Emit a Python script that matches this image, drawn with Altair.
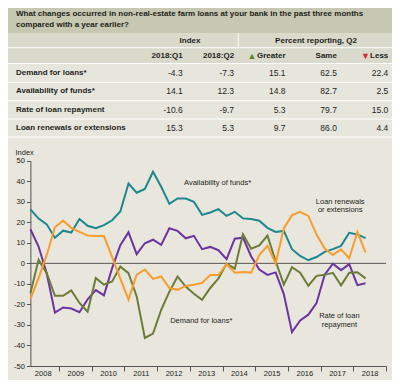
import altair as alt
import pandas as pd

# ---------------- data ----------------
quarter_index = list(range(42))  # 2008:Q1 ... 2018:Q2
availability = [26.3, 21.8, 19.0, 12.5, 15.9, 15.0, 21.6, 18.3, 17.1, 18.6, 21.0, 25.3,
                38.9, 34.4, 36.2, 44.6, 37.3, 29.0, 31.6, 31.6, 30.0, 23.6, 24.8, 26.4,
                23.1, 25.1, 21.9, 21.6, 20.8, 17.3, 15.3, 15.8, 6.9, 3.6, 1.5, 3.1,
                5.6, 6.9, 8.5, 14.9, 14.1, 12.3]
repayment = [16.6, 8.2, -5.0, -24.0, -21.5, -22.0, -23.8, -17.5, -13.0, -15.6, -2.3, 8.8,
             15.1, 4.5, 9.8, 11.5, 9.0, 17.1, 15.8, 12.2, 13.4, 6.9, 8.0, 6.4,
             2.0, 12.0, 12.5, 3.5, -3.0, -5.6, -4.4, -15.0, -33.5, -27.8, -25.0, -19.4,
             -5.5, -0.2, -3.3, -0.4, -10.6, -9.7]
demand = [-14.5, 1.7, -4.8, -15.8, -15.8, -13.2, -19.3, -23.6, -7.2, -10.4, -8.8, -1.6,
          -4.8, -16.1, -36.3, -34.2, -22.6, -13.8, -6.4, -11.3, -14.8, -17.8, -12.0, -7.4,
          -0.1, -2.6, 14.2, 7.1, 8.7, 13.5, 1.0, -10.4, -1.9, -4.6, -10.9, -6.1,
          -5.6, -4.6, -10.7, -4.6, -4.3, -7.3]
renewals = [-17.4, -7.2, 4.1, 17.6, 20.8, 17.3, 15.3, 13.6, 13.3, 13.3, 3.0, -7.4,
            -17.7, -5.5, -3.0, -7.5, -6.4, -12.0, -12.9, -11.0, -10.4, -9.5, -5.7, -5.7,
            -0.4, -4.6, -4.2, -4.5, 4.0, 8.5, 0.0, 17.0, 23.5, 25.1, 23.1, 14.0,
            7.2, 4.1, 6.8, 2.5, 15.3, 5.3]

series_names = ["Availability of funds*", "Rate of loan repayment",
                "Demand for loans*", "Loan renewals or extensions"]
series_values = [availability, repayment, demand, renewals]

year_boundaries = [4 * k - 0.5 for k in range(1, 12)]   # 2009 ... 2019 starts
y_ticks = list(range(-50, 51, 10))

question = ["What changes occurred in non-real-estate farm loans at your bank in the past three months",
            "compared with a year earlier?"]
group_headers = ["Index", "Percent reporting, Q2"]
column_keys = ["q1", "q2", "greater", "same", "less"]
column_headers = ["2018:Q1", "2018:Q2", "Greater", "Same", "Less"]
row_labels = ["Demand for loans*", "Availability of funds*",
              "Rate of loan repayment", "Loan renewals or extensions"]
index_q1 = [-4.3, 14.1, -10.6, 15.3]
index_q2 = [-7.3, 12.3, -9.7, 5.3]
pct_greater = [15.1, 14.8, 5.3, 9.7]
pct_same = [62.5, 82.7, 79.7, 86.0]
pct_less = [22.4, 2.5, 15.0, 4.4]

ann_left_text = ["Availability of funds*", "Demand for loans*"]
ann_left_q = [18.8, 17.1]
ann_left_v = [39.1, -27.9]
ann_center_text = ["Loan renewals", "or extensions", "Rate of loan", "repayment"]
ann_center_q = [37.9, 37.9, 37.8, 37.8]
ann_center_v = [29.9, 26.0, -25.8, -29.9]

# ---------------- tables ----------------
lines_df = pd.DataFrame([
    {"q": q, "v": v, "series": name}
    for name, vals in zip(series_names, series_values)
    for q, v in zip(quarter_index, vals)
])
value_cols = [index_q1, index_q2, pct_greater, pct_same, pct_less]
cells_df = pd.DataFrame([
    {"row": r, "col": c, "txt": f"{vals[i]:.1f}"}
    for c, vals in zip(column_keys, value_cols)
    for i, r in enumerate(row_labels)
])
hdr_df = pd.DataFrame({"col": column_keys, "txt": column_headers})
grp_df = pd.DataFrame({"g": group_headers})
q_df = pd.DataFrame({"line": question})
rows_df = pd.DataFrame({"row": row_labels})
zero_df = pd.DataFrame({"q": [0], "q2": [43.5], "v": [0]})
annl_df = pd.DataFrame({"t": ann_left_text, "q": ann_left_q, "v": ann_left_v})
annc_df = pd.DataFrame({"t": ann_center_text, "q": ann_center_q, "v": ann_center_v})
one = pd.DataFrame({"k": [0]})

# ---------------- styling / layout ----------------
W, H = 384, 372
FONT = "Liberation Sans Narrow, Arial Narrow, Liberation Sans, Arial, sans-serif"
TEXT = "#231f20"
COLORS = ["#1c878e", "#6b34a3", "#6a7c36", "#f99d2d"]

xq = alt.Scale(domain=[0, 43.5], range=[22.4, 378], nice=False, zero=False)
yq = alt.Scale(domain=[-50, 50], range=[358, 152.7], nice=False, zero=False)
col_scale = alt.Scale(type="point", domain=column_keys, range=[174.7, 380.3], padding=0)
row_scale = alt.Scale(type="point", domain=row_labels, range=[64.7, 120.3], padding=0)
q_scale = alt.Scale(type="point", domain=question, range=[5.5, 16.5], padding=0)
grp_scale = alt.Scale(type="point", domain=group_headers, range=[182, 308], padding=0)


def rect(x1, x2, y1, y2, color):
    return alt.Chart(one).mark_rect(color=color).encode(
        x=alt.value(x1), x2=alt.value(x2), y=alt.value(y1), y2=alt.value(y2))


bands = [
    rect(0, W, 0, 25, "#c6c8b2"),
    rect(0, W, 25, 55, "#d9dacb"),
    rect(0, W, 55, 129, "#e7e6dd"),
    rect(0, W, 39.3, 40.3, "#ffffff"),
    rect(0, W, 55, 56, "#ffffff"),
    rect(0, W, 73.8, 74.8, "#ffffff"),
    rect(0, W, 92.2, 93.2, "#ffffff"),
    rect(0, W, 110.5, 111.5, "#ffffff"),
    rect(0, W, 128.5, 129.5, "#ffffff"),
    rect(229.8, 230.8, 25, 39.5, "#ffffff"),
]

question_layer = alt.Chart(q_df).mark_text(
    font=FONT, fontSize=8, fontWeight="bold", align="left", baseline="middle", color=TEXT
).encode(x=alt.value(8), y=alt.Y("line:N", scale=q_scale, axis=None), text="line:N")

group_layer = alt.Chart(grp_df).mark_text(
    font=FONT, fontSize=8, fontWeight="bold", align="center", baseline="middle", color=TEXT
).encode(x=alt.X("g:N", scale=grp_scale, axis=None), y=alt.value(33), text="g:N")

header_layer = alt.Chart(hdr_df).mark_text(
    font=FONT, fontSize=8, fontWeight="bold", align="right", baseline="middle", color=TEXT
).encode(x=alt.X("col:N", scale=col_scale, axis=None), y=alt.value(48), text="txt:N")

tri_up = alt.Chart(pd.DataFrame({"col": ["greater"], "t": ["▲"]})).mark_text(
    fontSize=9, align="right", baseline="middle", color="#4f8c2e", dx=-29
).encode(x=alt.X("col:N", scale=col_scale, axis=None), y=alt.value(48), text="t:N")
tri_down = alt.Chart(pd.DataFrame({"col": ["less"], "t": ["▼"]})).mark_text(
    fontSize=9, align="right", baseline="middle", color="#d42a2f", dx=-18.5
).encode(x=alt.X("col:N", scale=col_scale, axis=None), y=alt.value(48), text="t:N")

row_layer = alt.Chart(rows_df).mark_text(
    font=FONT, fontSize=8, fontWeight="bold", align="left", baseline="middle", color=TEXT
).encode(x=alt.value(8), y=alt.Y("row:N", scale=row_scale, axis=None), text="row:N")

cell_layer = alt.Chart(cells_df).mark_text(
    font=FONT, fontSize=8.5, align="right", baseline="middle", color=TEXT
).encode(x=alt.X("col:N", scale=col_scale, axis=None),
         y=alt.Y("row:N", scale=row_scale, axis=None), text="txt:N")

zero_layer = alt.Chart(zero_df).mark_rule(color="#555555", strokeWidth=1).encode(
    x=alt.X("q:Q", scale=xq, axis=None), x2="q2:Q",
    y=alt.Y("v:Q", scale=yq, axis=None))

x_axis = alt.Axis(values=year_boundaries,
                  labelExpr="toString(2007 + (datum.value + 0.5) / 4)",
                  labelOffset=-16.3, tickSize=5, offset=-14, labelFlush=False,
                  labelOverlap=False, grid=False, labelPadding=-2, title=None,
                  labelFontSize=7.5, labelFont=FONT, labelColor=TEXT,
                  domainColor="#555555", tickColor="#555555")
y_axis = alt.Axis(values=y_ticks, labelExpr="toString(datum.value)", offset=-22.4,
                  tickSize=4, labelPadding=2, grid=False, title="Index",
                  titleAngle=0, titleAlign="left", titleBaseline="alphabetic",
                  titleX=-15.4, titleY=146, titleFontWeight="normal", titleFontSize=7.5,
                  titleFont=FONT, titleColor=TEXT, labelFontSize=7.5, labelFont=FONT,
                  labelColor=TEXT, domainColor="#555555", tickColor="#555555",
                  labelFlush=False)

line_layer = alt.Chart(lines_df).mark_line(strokeWidth=2).encode(
    x=alt.X("q:Q", scale=xq, axis=x_axis),
    y=alt.Y("v:Q", scale=yq, axis=y_axis),
    color=alt.Color("series:N", scale=alt.Scale(domain=series_names, range=COLORS), legend=None),
)

annl_layer = alt.Chart(annl_df).mark_text(
    font=FONT, fontSize=7.5, align="left", baseline="middle", color=TEXT
).encode(x=alt.X("q:Q", scale=xq, axis=None), y=alt.Y("v:Q", scale=yq, axis=None), text="t:N")
annc_layer = alt.Chart(annc_df).mark_text(
    font=FONT, fontSize=7.5, align="center", baseline="middle", color=TEXT
).encode(x=alt.X("q:Q", scale=xq, axis=None), y=alt.Y("v:Q", scale=yq, axis=None), text="t:N")

chart = alt.layer(
    *bands, question_layer, group_layer, header_layer, tri_up, tri_down,
    row_layer, cell_layer, zero_layer, line_layer, annl_layer, annc_layer
).resolve_scale(
    x="independent", y="independent"
).properties(
    width=W, height=H, padding=0,
    autosize=alt.AutoSizeParams(type="none"),
    background="#e8e6dd",
).configure_view(stroke=None)

chart.save("out.html", embed_options={"renderer": "svg", "actions": False})
